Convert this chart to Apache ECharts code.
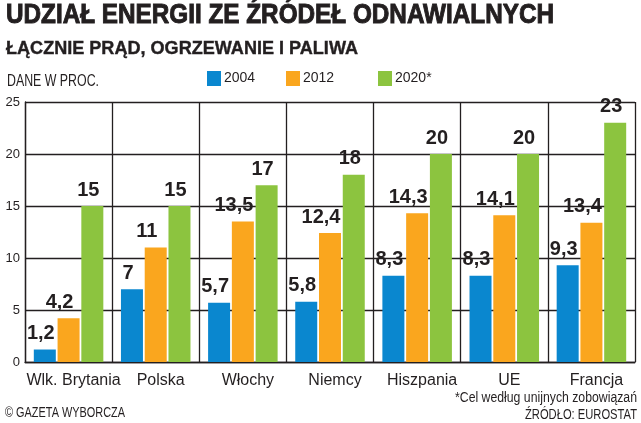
<!DOCTYPE html>
<html>
<head>
<meta charset="utf-8">
<script src="https://cdn.jsdelivr.net/npm/echarts@6/dist/echarts.min.js"></script>
<style>
  html, body { margin: 0; padding: 0; background: #fff; }
  #chart { width: 641px; height: 423px; }
</style>
</head>
<body>
<div id="chart"></div>
<script>
    var categories = ['Wlk. Brytania', 'Polska', 'Włochy', 'Niemcy', 'Hiszpania', 'UE', 'Francja'];
    var values2004 = [1.2, 7, 5.7, 5.8, 8.3, 8.3, 9.3];
    var values2012 = [4.2, 11, 13.5, 12.4, 14.3, 14.1, 13.4];
    var values2020 = [15, 15, 17, 18, 20, 20, 23];
    var yTicks = [0, 5, 10, 15, 20, 25];

    var ink = '#231f20';
    var sans = '"Liberation Sans", Arial, sans-serif';

    var myChart = echarts.init(document.getElementById('chart'));

    // pomiar tekstu, zeby sciesnic napisy do szerokosci z oryginalu
    var measureCtx = document.createElement('canvas').getContext('2d');
    function textWidth(text, font) {
        measureCtx.font = font;
        return measureCtx.measureText(text).width;
    }

    // napis sciesniony (scaleX) - x to lewa albo prawa krawedz, y to linia bazowa
    function squeezed(text, x, baseline, size, weight, width, align, heavy) {
        var font = weight + ' ' + size + 'px ' + sans;
        var style = {
            text: text,
            fill: ink,
            font: font,
            align: align || 'left',
            verticalAlign: 'middle'
        };
        if (heavy) {
            style.stroke = ink;
            style.lineWidth = heavy;
        }
        return {
            type: 'text',
            x: x,
            y: baseline - 0.31 * size,
            scaleX: width / textWidth(text, font),
            style: style
        };
    }

    function valueLabel(dx) {
        return {
            show: true,
            position: 'top',
            distance: 6,
            offset: [dx, 0],
            color: ink,
            fontFamily: sans,
            fontWeight: 'bold',
            fontSize: 20,
            formatter: function (p) { return String(p.value).replace('.', ','); }
        };
    }

    function legendAt(left, name) {
        return {
            left: left,
            top: 71,
            padding: 0,
            icon: 'rect',
            itemWidth: 14,
            itemHeight: 15,
            itemGap: 0,
            selectedMode: false,
            textStyle: { color: ink, fontFamily: sans, fontSize: 14, padding: [0, 0, 0, -2] },
            data: [name]
        };
    }

    var option = {
        animation: false,
        graphic: [
            squeezed('UDZIAŁ ENERGII ZE ŹRÓDEŁ ODNAWIALNYCH', 6, 24, 28, 'bold', 548, 'left', 1),
            squeezed('ŁĄCZNIE PRĄD, OGRZEWANIE I PALIWA', 6, 55, 19, 'bold', 352, 'left', 0.4),
            squeezed('DANE W PROC.', 7, 87, 16, 'normal', 92),
            squeezed('*Cel według unijnych zobowiązań', 637, 402, 14, 'normal', 182, 'right'),
            squeezed('ŹRÓDŁO: EUROSTAT', 637, 419, 14, 'normal', 112, 'right'),
            squeezed('© GAZETA WYBORCZA', 5, 418, 15, 'normal', 120)
        ],
        legend: [legendAt(207, '2004'), legendAt(286, '2012'), legendAt(378, '2020*')],
        grid: {
            left: 25,
            right: 6,
            top: 102,
            bottom: 61
        },
        xAxis: {
            type: 'category',
            data: categories,
            axisLine: { show: true, lineStyle: { color: ink, width: 1.3 } },
            axisTick: { show: false },
            splitLine: { show: true, lineStyle: { color: ink, width: 1.3 } },
            axisLabel: { color: ink, fontFamily: sans, fontSize: 16, margin: 11, interval: 0, padding: [0, 0, 0, 10] }
        },
        yAxis: {
            type: 'value',
            min: yTicks[0],
            max: yTicks[yTicks.length - 1],
            interval: 5,
            axisLine: { show: true, lineStyle: { color: ink, width: 1.3 } },
            axisTick: { show: false },
            splitLine: { show: true, lineStyle: { color: ink, width: 1.3 } },
            axisLabel: { color: ink, fontFamily: sans, fontSize: 13, margin: 5 }
        },
        series: [
            {
                name: '2004',
                type: 'bar',
                data: values2004,
                barWidth: 22,
                barGap: '8%',
                itemStyle: { color: '#0a87cf' },
                label: valueLabel(-4)
            },
            {
                name: '2012',
                type: 'bar',
                data: values2012,
                barWidth: 22,
                barGap: '8%',
                itemStyle: { color: '#faa61e' },
                label: valueLabel(-9)
            },
            {
                name: '2020*',
                type: 'bar',
                data: values2020,
                barWidth: 22,
                barGap: '8%',
                itemStyle: { color: '#8cc43f' },
                label: valueLabel(-4)
            }
        ]
    };
    myChart.setOption(option);
</script>
</body>
</html>
